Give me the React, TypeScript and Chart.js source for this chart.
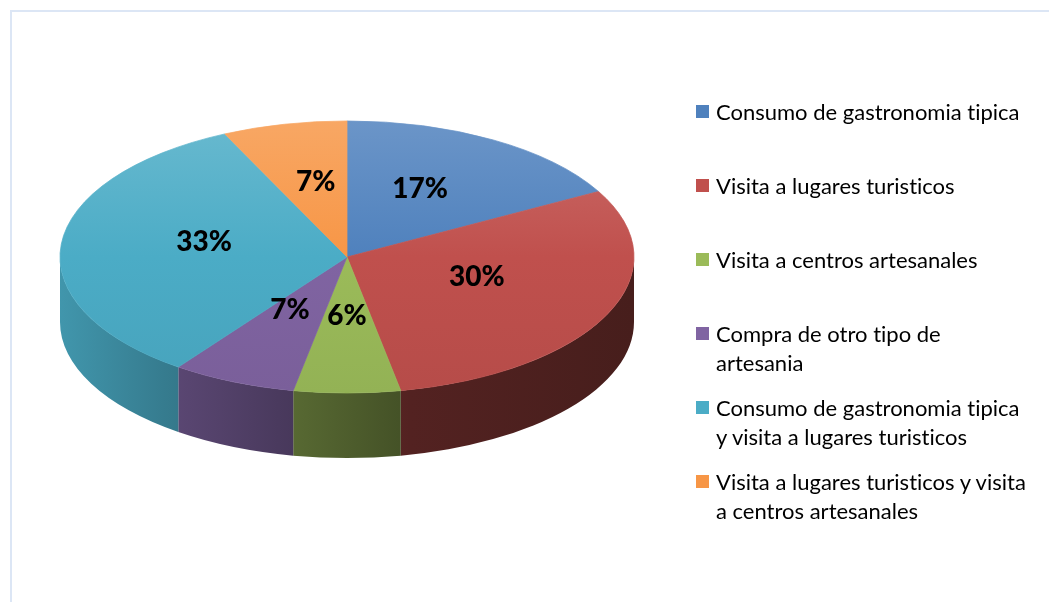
import React, { useEffect, useRef } from 'react';
import { Chart, registerables } from 'chart.js';

Chart.register(...registerables);

// ---- data ----
const categories = [
  'Consumo de gastronomia tipica',
  'Visita a lugares turisticos',
  'Visita a centros artesanales',
  'Compra de otro tipo de artesania',
  'Consumo de gastronomia tipica y visita a lugares turisticos',
  'Visita a lugares turisticos y visita a centros artesanales',
];
const legendLines = [
  ['Consumo de gastronomia tipica'],
  ['Visita a lugares turisticos'],
  ['Visita a centros artesanales'],
  ['Compra de otro tipo de', 'artesania'],
  ['Consumo de gastronomia tipica', 'y visita a lugares turisticos'],
  ['Visita a lugares turisticos y visita', 'a centros artesanales'],
];
const values = [17, 30, 6, 7, 33, 7];
const colors = ['#4f81bd', '#c0504d', '#9bbb59', '#8064a2', '#4bacc6', '#f79646'];

// ---- styling constants ----
const RADIUS = 287;
const TILT = 0.474;
const DEPTH = 65;
const LABEL_DY = -9;

function hexToRgb(h: string) {
  const n = parseInt(h.slice(1), 16);
  return [(n >> 16) & 255, (n >> 8) & 255, n & 255];
}
function shade(h: string, f: number) {
  const [r, g, b] = hexToRgb(h);
  return `rgb(${Math.round(r * f)},${Math.round(g * f)},${Math.round(b * f)})`;
}
function tint(h: string, t: number) {
  const [r, g, b] = hexToRgb(h);
  return `rgb(${Math.round(r + (255 - r) * t)},${Math.round(g + (255 - g) * t)},${Math.round(b + (255 - b) * t)})`;
}

const sideStops: [number, number][] = [
  [0, 0.87],
  [0.18, 0.72],
  [0.38, 0.58],
  [0.61, 0.43],
  [1, 0.37],
];

const topFill = (c: any) => {
  const base = colors[c.dataIndex];
  const chart = c.chart;
  const area = chart.chartArea;
  if (!area) return base;
  const cy = (area.top + area.bottom) / 2;
  const g = chart.ctx.createLinearGradient(0, cy - RADIUS, 0, cy + RADIUS);
  g.addColorStop(0, tint(base, 0.16));
  g.addColorStop(0.5, base);
  g.addColorStop(1, shade(base, 0.95));
  return g;
};

const pie3d = {
  id: 'pie3d',
  beforeDatasetsDraw(chart: any) {
    const ctx = chart.ctx as CanvasRenderingContext2D;
    const arcs = chart.getDatasetMeta(0).data as any[];
    if (!arcs.length) return;
    const cx = arcs[0].x;
    const cy = arcs[0].y;
    const rx = arcs[0].outerRadius;
    const ry = rx * TILT;
    arcs.forEach((arc, i) => {
      const s = Math.max(arc.startAngle, 0);
      const e = Math.min(arc.endAngle, Math.PI);
      if (e <= s) return;
      const g = ctx.createLinearGradient(cx - rx, 0, cx + rx, 0);
      sideStops.forEach(([t, f]) => g.addColorStop(t, shade(colors[i], f)));
      ctx.save();
      ctx.beginPath();
      ctx.ellipse(cx, cy, rx, ry, 0, s, e);
      ctx.ellipse(cx, cy + DEPTH, rx, ry, 0, e, s, true);
      ctx.closePath();
      ctx.fillStyle = g;
      ctx.fill();
      ctx.restore();
    });
    ctx.save();
    ctx.translate(cx, cy);
    ctx.scale(1, TILT);
    ctx.translate(-cx, -cy);
  },
  afterDatasetsDraw(chart: any) {
    const ctx = chart.ctx as CanvasRenderingContext2D;
    ctx.restore();
    const arcs = chart.getDatasetMeta(0).data as any[];
    ctx.save();
    ctx.font = '900 28px Lato';
    ctx.fillStyle = '#000';
    ctx.textAlign = 'center';
    ctx.textBaseline = 'middle';
    arcs.forEach((arc, i) => {
      const mid = (arc.startAngle + arc.endAngle) / 2;
      const r = arc.outerRadius * 0.5;
      const x = arc.x + r * Math.cos(mid);
      const y = arc.y + r * Math.sin(mid) * TILT + LABEL_DY;
      ctx.fillText(values[i] + '%', x, y);
    });
    ctx.restore();
  },
};

export default function App() {
  const ref = useRef<HTMLCanvasElement>(null);
  useEffect(() => {
    if (!ref.current) return;
    const chart = new Chart(ref.current, {
      type: 'pie',
      data: {
        labels: categories,
        datasets: [
          {
            data: values,
            backgroundColor: topFill,
            borderColor: topFill,
            borderWidth: 1,
            radius: RADIUS,
            clip: false,
          } as any,
        ],
      },
      options: {
        responsive: false,
        animation: false,
        events: [],
        layout: { padding: { left: 0, top: 0, right: 355, bottom: 88 } },
        plugins: {
          legend: { display: false },
          tooltip: { enabled: false },
        },
      },
      plugins: [pie3d],
    });
    return () => chart.destroy();
  }, []);

  return (
    <div style={{ position: 'fixed', left: 0, top: 0, width: 1049, height: 602, background: '#fff', overflow: 'hidden' }}>
      <div
        style={{
          position: 'absolute',
          left: 10,
          top: 10,
          width: 1100,
          height: 700,
          borderLeft: '2px solid #dce6f5',
          borderTop: '2px solid #dce6f5',
        }}
      />
      <canvas ref={ref} width={1049} height={602} style={{ position: 'absolute', left: 0, top: 0 }} />
      {legendLines.map((lines, i) => {
        const cyl = 111 + 74 * i;
        return (
          <React.Fragment key={i}>
            <div
              style={{
                position: 'absolute',
                left: 696,
                top: cyl - 6.5,
                width: 13,
                height: 13,
                background: colors[i],
              }}
            />
            <div
              style={{
                position: 'absolute',
                left: 716,
                top: cyl - 14.5,
                font: '22px Lato',
                lineHeight: '29px',
                color: '#000',
                whiteSpace: 'nowrap',
                fontVariantLigatures: 'none',
              }}
            >
              {lines.map((l, j) => (
                <div key={j}>{l}</div>
              ))}
            </div>
          </React.Fragment>
        );
      })}
    </div>
  );
}
